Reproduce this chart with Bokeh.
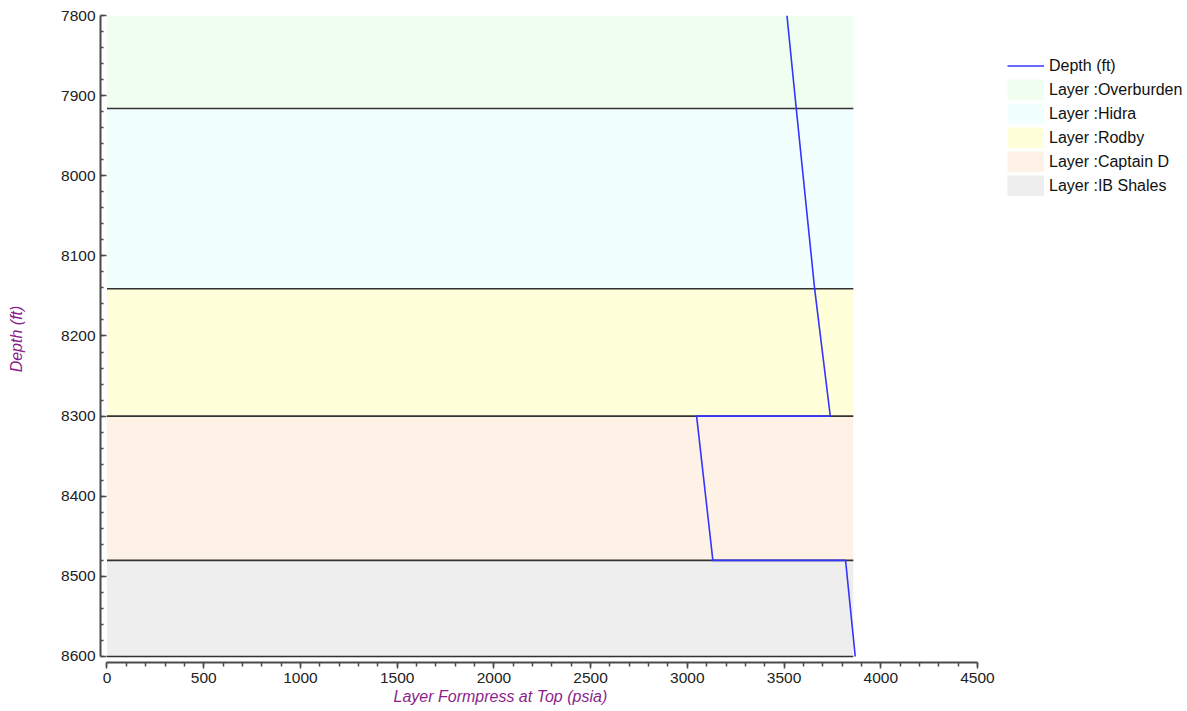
from bokeh.plotting import figure
from bokeh.models import Range1d, Legend, LegendItem, SingleIntervalTicker, Title
from bokeh.embed import file_html
from bokeh.resources import INLINE

# ---- data ----
layer_names = ["Overburden", "Hidra", "Rodby", "Captain D", "IB Shales"]
layer_tops = [7800, 7916, 8141, 8300, 8480]
layer_bottoms = [7916, 8141, 8300, 8480, 8600]
layer_extent = [3858, 3858, 3858, 3858, 3858]   # psia, right edge of the layer bands
depth_ft = [7800, 7916, 8141, 8300, 8300, 8480, 8480, 8600]
formpress_psia = [3515, 3563, 3658, 3739, 3048, 3132, 3818, 3868]

# ---- styles ----
layer_colors = ["#F0FEF0", "#F2FFFF", "#FFFFDA", "#FEF2E7", "#EEEEEE"]
FONT = "Liberation Sans"
PURPLE = "#8B1F8B"
AXIS = "#4a4a4a"
NAN = float("nan")

p = figure(width=1187, height=711, output_backend="svg", toolbar_location=None,
           x_range=Range1d(-33.6, 5585.6), y_range=Range1d(8607.5, 7800),
           min_border_left=100, min_border_right=0, min_border_top=15, min_border_bottom=49)
p.outline_line_color = None
p.xgrid.visible = False
p.ygrid.visible = False
p.background_fill_color = "white"

# layer bands
p.quad(left=[0] * len(layer_names), right=layer_extent, top=layer_tops, bottom=layer_bottoms,
       fill_color=layer_colors, line_color=None)
# boundary lines
p.segment(x0=[0] * len(layer_bottoms), x1=layer_extent, y0=layer_bottoms, y1=layer_bottoms,
          line_color="#333333", line_width=1.6)
# depth curve
depth_line = p.line(formpress_psia, depth_ft, line_color="#3434FF", line_width=1.6)

# legend (legend-only wide lines draw the filled swatches; NaN data draws nothing in the plot)
items = [LegendItem(label="Depth (ft)", renderers=[depth_line])]
for name, col in zip(layer_names, layer_colors):
    r = p.line(x=[NAN], y=[NAN], line_color=col, line_width=21)
    items.append(LegendItem(label="Layer :" + name, renderers=[r]))
legend = Legend(items=items, location=(907, 466), glyph_width=37, glyph_height=21,
                label_height=21, spacing=3, label_standoff=5, padding=0, margin=0,
                label_text_font=FONT, label_text_font_size="16px", label_text_color="#111111",
                background_fill_alpha=0, border_line_alpha=0)
p.add_layout(legend, "center")

# axes
xa = p.xaxis[0]
xa.ticker = SingleIntervalTicker(interval=500, num_minor_ticks=5)
xa.bounds = (0, 4500)
xa.axis_line_color = AXIS
xa.axis_line_width = 2
xa.major_tick_line_color = AXIS
xa.minor_tick_line_color = AXIS
xa.major_tick_line_width = 1.5
xa.minor_tick_line_width = 1.5
xa.major_tick_in = 0
xa.major_tick_out = 6
xa.minor_tick_in = 0
xa.minor_tick_out = 4
xa.major_label_standoff = 4
xa.major_label_text_font = FONT
xa.major_label_text_font_size = "15.5px"
xa.major_label_text_color = "#222222"

ya = p.yaxis[0]
ya.ticker = SingleIntervalTicker(interval=100, num_minor_ticks=5)
ya.bounds = (7800, 8600)
ya.axis_line_color = AXIS
ya.axis_line_width = 2
ya.major_tick_line_color = AXIS
ya.minor_tick_line_color = AXIS
ya.major_tick_line_width = 1.5
ya.minor_tick_line_width = 1.5
ya.major_tick_in = 6
ya.major_tick_out = 0
ya.minor_tick_in = 3
ya.minor_tick_out = 0
ya.major_label_standoff = 5
ya.major_label_text_font = FONT
ya.major_label_text_font_size = "15.5px"
ya.major_label_text_color = "#222222"
ya.axis_label = "Depth (ft)"
ya.axis_label_text_font = FONT
ya.axis_label_text_font_size = "16px"
ya.axis_label_text_font_style = "italic"
ya.axis_label_text_color = PURPLE
ya.axis_label_standoff = 33

xlabel = Title(text="Layer Formpress at Top (psia)", align="left", offset=293, standoff=0,
               text_font=FONT, text_font_size="16px", text_font_style="italic",
               text_color=PURPLE)
p.add_layout(xlabel, "below")

open("out.html", "w").write(file_html(p, INLINE))
